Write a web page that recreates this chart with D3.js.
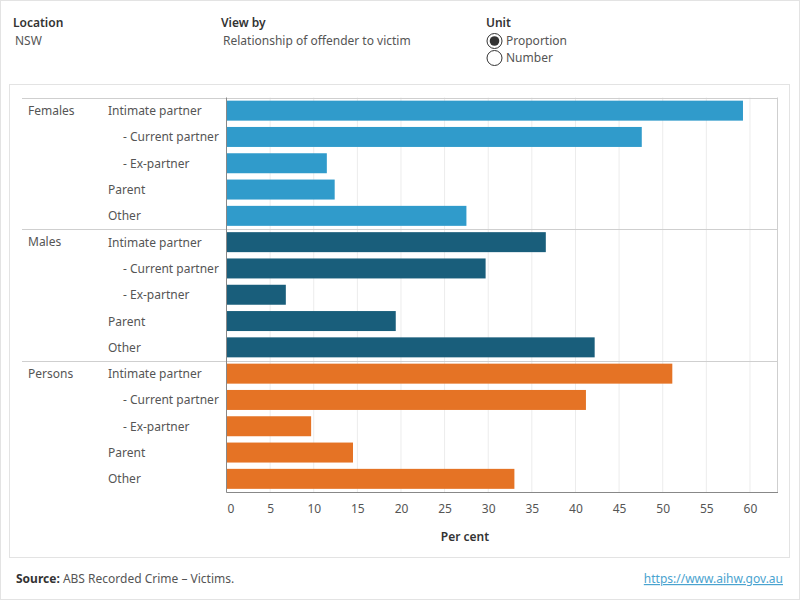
<!DOCTYPE html>
<html>
<head>
<meta charset="utf-8">
<script src="https://cdn.jsdelivr.net/npm/d3@7"></script>
<style>
  html, body { margin: 0; padding: 0; background: #fff; }
  svg { display: block; font-family: "Noto Sans", "Open Sans", sans-serif; }
</style>
</head>
<body>
<svg id="chart" width="800" height="600"></svg>
<script>
// ---- Data ----
const groups = ["Females", "Males", "Persons"];
const relationships = ["Intimate partner", "- Current partner", "- Ex-partner", "Parent", "Other"];
const females = [59.2, 47.6, 11.5, 12.4, 27.5];
const males = [36.6, 29.7, 6.8, 19.4, 42.2];
const persons = [51.1, 41.2, 9.7, 14.5, 33.0];
const xTicks = [0, 5, 10, 15, 20, 25, 30, 35, 40, 45, 50, 55, 60];
const groupColors = ["#309bcb", "#195e7b", "#e57325"];

const series = [females, males, persons];

const svg = d3.select("#chart");
const textCol = "#555";

// outer frame
svg.append("rect").attr("x", 0.5).attr("y", 0.5).attr("width", 799).attr("height", 599)
  .attr("fill", "none").attr("stroke", "#e3e3e3");
// chart panel frame
svg.append("rect").attr("x", 9.5).attr("y", 84.5).attr("width", 780).attr("height", 473)
  .attr("fill", "none").attr("stroke", "#e3e3e3");

// ---- Header controls ----
const hdr = svg.append("g").attr("font-size", 12);
hdr.append("text").attr("x", 13).attr("y", 27).attr("fill", "#333").attr("font-weight", 600).text("Location");
hdr.append("text").attr("x", 15).attr("y", 45).attr("fill", textCol).text("NSW");
hdr.append("text").attr("x", 221).attr("y", 27).attr("fill", "#333").attr("font-weight", 600).text("View by");
hdr.append("text").attr("x", 223).attr("y", 45).attr("fill", textCol).text("Relationship of offender to victim");
hdr.append("text").attr("x", 486).attr("y", 27).attr("fill", "#333").attr("font-weight", 600).text("Unit");
hdr.append("circle").attr("cx", 494.5).attr("cy", 41).attr("r", 7.5).attr("fill", "#fff").attr("stroke", "#333").attr("stroke-width", 1);
hdr.append("circle").attr("cx", 494.5).attr("cy", 41).attr("r", 4.8).attr("fill", "#333");
hdr.append("text").attr("x", 506).attr("y", 45).attr("fill", textCol).text("Proportion");
hdr.append("circle").attr("cx", 494.5).attr("cy", 58).attr("r", 7.5).attr("fill", "#fff").attr("stroke", "#333").attr("stroke-width", 1);
hdr.append("text").attr("x", 506).attr("y", 62).attr("fill", textCol).text("Number");

// ---- Scales ----
const plotLeft = 226.5, plotRight = 777, plotTop = 97.5, plotBottom = 492;
const x = d3.scaleLinear().domain([0, 63.1]).range([plotLeft, plotRight]);
const yGroup = d3.scaleBand().domain(groups).range([plotTop, plotBottom]).paddingInner(0).paddingOuter(0);
const yRel = d3.scaleBand().domain(relationships).range([0, yGroup.bandwidth()]).paddingInner(0.24).paddingOuter(0.12);

// gridlines
svg.append("g").selectAll("line").data(xTicks.slice(1)).join("line")
  .attr("x1", d => x(d)).attr("x2", d => x(d))
  .attr("y1", plotTop).attr("y2", plotBottom)
  .attr("stroke", "#ececec").attr("stroke-width", 1);

// right border
svg.append("line").attr("x1", plotRight + 0.5).attr("x2", plotRight + 0.5)
  .attr("y1", plotTop).attr("y2", plotBottom).attr("stroke", "#cfcfcf");

// row separators and top line
const seps = [plotTop, yGroup("Males"), yGroup("Persons")];
svg.append("g").selectAll("line").data(seps).join("line")
  .attr("x1", 22).attr("x2", plotRight + 0.5)
  .attr("y1", d => Math.round(d) + 0.5).attr("y2", d => Math.round(d) + 0.5)
  .attr("stroke", "#cfcfcf");

// bars
groups.forEach((g, gi) => {
  const gg = svg.append("g").attr("transform", `translate(0,${yGroup(g)})`);
  gg.selectAll("rect").data(series[gi]).join("rect")
    .attr("x", x(0))
    .attr("y", (d, i) => yRel(relationships[i]))
    .attr("width", d => x(d) - x(0))
    .attr("height", yRel.bandwidth())
    .attr("fill", groupColors[gi]);
  // group label
  gg.append("text").attr("x", 28).attr("y", yRel(relationships[0]) + yRel.bandwidth() / 2 + 4)
    .attr("font-size", 12).attr("fill", textCol).text(g);
  // category labels
  gg.selectAll("text.cat").data(relationships).join("text").attr("class", "cat")
    .attr("x", d => d.startsWith("-") ? 123 : 108)
    .attr("y", d => yRel(d) + yRel.bandwidth() / 2 + 4.5)
    .attr("font-size", 12).attr("fill", textCol).text(d => d);
});

// axis lines (left and bottom)
svg.append("line").attr("x1", plotLeft).attr("x2", plotLeft).attr("y1", plotTop).attr("y2", plotBottom + 0.5)
  .attr("stroke", "#888");
svg.append("line").attr("x1", plotLeft).attr("x2", plotRight + 1).attr("y1", plotBottom + 0.5).attr("y2", plotBottom + 0.5)
  .attr("stroke", "#888");

// x axis
const xAxis = d3.axisBottom(x).tickValues(xTicks).tickSize(0).tickPadding(12);
const ax = svg.append("g").attr("transform", `translate(0,${plotBottom})`).call(xAxis);
ax.select(".domain").remove();
ax.selectAll("text").attr("font-size", 12).attr("fill", textCol)
  .attr("font-family", "\"Noto Sans\", sans-serif")
  .attr("dx", d => d === 0 ? 4 : 0);

svg.append("text").attr("x", 465).attr("y", 541).attr("text-anchor", "middle")
  .attr("font-size", 12).attr("font-weight", 600).attr("fill", "#333").text("Per cent");

// ---- Footer ----
const ft = svg.append("text").attr("x", 16).attr("y", 583).attr("font-size", 12).attr("fill", textCol);
ft.append("tspan").attr("font-weight", 700).attr("fill", "#333").text("Source:");
ft.append("tspan").text(" ABS Recorded Crime – Victims.");
svg.append("text").attr("x", 783).attr("y", 583).attr("text-anchor", "end").attr("font-size", 12)
  .attr("fill", "#4aa3cf").attr("text-decoration", "underline").text("https://www.aihw.gov.au");
</script>
</body>
</html>
